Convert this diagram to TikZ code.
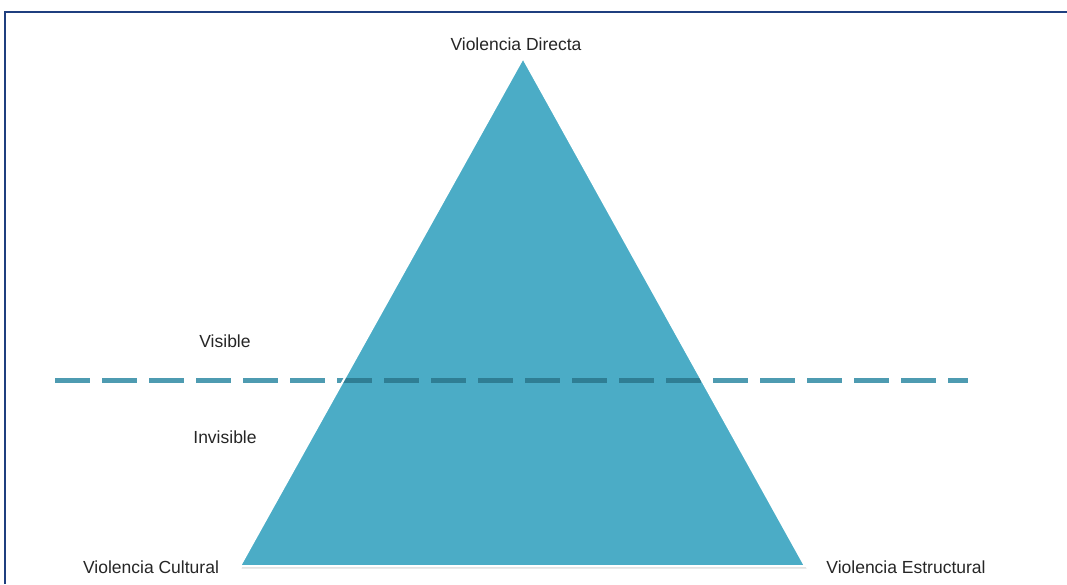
\documentclass[tikz,border=0pt]{standalone}
\usepackage{fontspec}
\setmainfont{Liberation Sans}
\usetikzlibrary{positioning}

\definecolor{aqua}{HTML}{4BACC6}
\definecolor{aquadash}{HTML}{4E9BB1}
\definecolor{aquadark}{HTML}{2F7E94}
\definecolor{frameblue}{HTML}{1F3F7F}

\begin{document}
\begin{tikzpicture}[x=1pt, y=-1pt,
	labeltext/.style={font=\fontsize{17.5}{20}\selectfont, text=black!85,
		inner sep=0pt, anchor=base},
	levelline/.style={line width=5pt, dash pattern=on 35pt off 12pt}]
	\useasboundingbox (0,0) rectangle (1067,584);
	\fill [white] (0,0) rectangle (1067,584);
	\draw [frameblue, line width=1.5pt] (5,584) -- (5,12) -- (1067,12);

	\coordinate (apex) at (523,58);
	\coordinate (left) at (240,566);
	\coordinate (right) at (805,566);
	\coordinate (lineL) at (55,380);
	\coordinate (lineR) at (968,380);

	% triangle with its soft shadow
	\fill [black!12]
	([shift={(1.5,2.5)}]apex) -- ([shift={(1.5,2.5)}]left) -- ([shift={(1.5,2.5)}]right) -- cycle;
	\fill [aqua] (apex) -- (left) -- (right) -- cycle;

	% visible / invisible line
	\draw [aquadash, levelline] (lineL) -- (lineR);
	\begin{scope}
		\clip (apex) -- (left) -- (right) -- cycle;
		\draw [aquadark, levelline] (lineL) -- (lineR);
	\end{scope}
	\draw [white, line width=2pt, line join=miter] (apex) -- (left) -- (right) -- cycle;

	\node [labeltext] (directa) at (516,50) {Violencia Directa};
	\node [labeltext] (visible) at (225,347) {Visible};
	\node [labeltext] (invisible) at (225,443) {Invisible};
	\node [labeltext] (cultural) at (151,573) {Violencia Cultural};
	\node [labeltext] (estructural) at (906,573) {Violencia Estructural};
\end{tikzpicture}
\end{document}
